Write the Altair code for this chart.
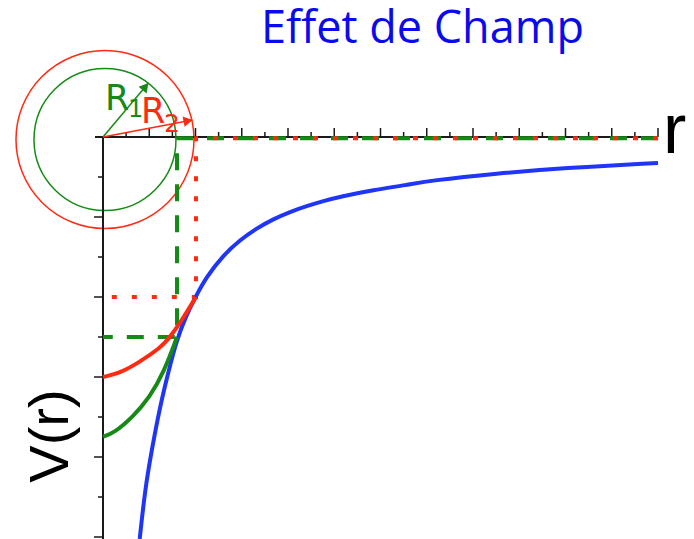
import altair as alt
import pandas as pd

# ---- values (x in r-tick units, y in V-tick units) ----
blue_r = [1.587, 1.816, 2.106, 2.465, 2.824, 3.187, 3.59, 4.02, 4.485, 5.21, 5.925, 6.65, 7.37,
          8.09, 8.81, 9.53, 10.27, 11.69, 13.13, 14.14, 17.03, 19.91, 24.0]
blue_v = [-10.05, -8.825, -7.825, -6.74, -5.875, -5.075, -4.475, -3.975, -3.49, -2.95, -2.575, -2.28, -2.05,
          -1.87, -1.725, -1.6, -1.49, -1.325, -1.2, -1.09, -0.91, -0.775, -0.65]

red_r = [0.0, 0.74, 1.60, 2.47, 2.82, 3.33, 4.02]
red_v = [-6.0, -5.9, -5.62, -5.27, -5.06, -4.66, -4.0]

green_r = [0.0, 0.45, 1.31, 2.03, 2.61, 3.20]
green_v = [-7.49, -7.41, -6.99, -6.49, -5.91, -5.0]

R1, V_R1 = 3.20, -5.0
R2, V_R2 = 4.02, -4.0
r_end = 24
x_ticks = list(range(1, 25))
y_ticks = list(range(1, 11))

W, H = 678, 531
xs = alt.Scale(domain=[-95 / 23.125, (W - 95) / 23.125], nice=False, zero=False)
ys = alt.Scale(domain=[-(H - 129) / 40, 129 / 40], nice=False, zero=False)
X = lambda f: alt.X(f, type="quantitative", scale=xs, axis=None)
Y = lambda f: alt.Y(f, type="quantitative", scale=ys, axis=None)

BLUE = "#1f35f8"
RED = "#ff2a12"
GREEN = "#168a16"

# circles
circ = pd.DataFrame({"x": [0.086, 0.086], "y": [-0.0625, -0.0625], "d": [178, 142], "c": [RED, GREEN]})
circles = alt.Chart(circ).mark_point(shape="circle", filled=False, strokeWidth=1.5, opacity=1).encode(
    x=X("x"), y=Y("y"),
    size=alt.Size("s:Q", scale=None),
    color=alt.Color("c:N", scale=None),
).transform_calculate(s="datum.d*datum.d")

# axes
axes_df = pd.DataFrame({"x": [-0.346, 0], "x2": [r_end, 0], "y": [0, 0], "y2": [0, ys.domain[0]]})
axes = alt.Chart(axes_df).mark_rule(color="#1a1a1a", strokeWidth=2).encode(
    x=X("x"), x2="x2", y=Y("y"), y2="y2")

xt = pd.DataFrame({"x": x_ticks})
xt["major"] = xt["x"] % 2 == 0
xt["y0"] = 0.0
xt["y1"] = xt["major"].map({True: 9 / 40, False: 5 / 40})
xticks = alt.Chart(xt).mark_rule(color="#1a1a1a", strokeWidth=1.5).encode(
    x=X("x"), y=Y("y0"), y2="y1")

yt = pd.DataFrame({"y": [-v for v in y_ticks]})
yt["major"] = yt["y"] % 2 == 0
yt["x0"] = 0.0
yt["x1"] = yt["major"].map({True: -9 / 23.125, False: -5 / 23.125})
yticks = alt.Chart(yt).mark_rule(color="#1a1a1a", strokeWidth=1.5).encode(
    y=Y("y"), x=X("x0"), x2="x1")

# dashed guides
g_path = pd.DataFrame({"x": [r_end, R1, R1, 0], "y": [-0.03, -0.03, V_R1, V_R1], "i": [0, 1, 2, 3]})
r_path = pd.DataFrame({"x": [r_end, R2, R2, 0], "y": [-0.03, -0.03, V_R2, V_R2], "i": [0, 1, 2, 3]})
g_dash = alt.Chart(g_path).mark_line(color=GREEN, strokeWidth=4, strokeDash=[17, 14]).encode(
    x=X("x"), y=Y("y"), order="i:Q")
r_dash = alt.Chart(r_path).mark_line(color=RED, strokeWidth=4, strokeDash=[5, 15]).encode(
    x=X("x"), y=Y("y"), order="i:Q")

# curves
blue = alt.Chart(pd.DataFrame({"x": blue_r, "y": blue_v})).mark_line(
    color=BLUE, strokeWidth=4, interpolate="basis").encode(x=X("x"), y=Y("y"))
red = alt.Chart(pd.DataFrame({"x": red_r, "y": red_v})).mark_line(
    color=RED, strokeWidth=4, interpolate="basis").encode(x=X("x"), y=Y("y"))
green = alt.Chart(pd.DataFrame({"x": green_r, "y": green_v})).mark_line(
    color=GREEN, strokeWidth=4, interpolate="basis").encode(x=X("x"), y=Y("y"))

# radius arrows
arr = pd.DataFrame({"x": [0, 0], "y": [0, 0], "x2": [1.959, 3.87], "y2": [1.3425, 0.425], "c": [GREEN, RED]})
shafts = alt.Chart(arr).mark_rule(strokeWidth=1.5).encode(
    x=X("x"), y=Y("y"), x2="x2", y2="y2", color=alt.Color("c:N", scale=None))
heads_df = pd.DataFrame({"x": [1.838, 3.678], "y": [1.26, 0.405], "a": [40, 79], "c": [GREEN, RED]})
heads = alt.Chart(heads_df).mark_point(shape="triangle-up", filled=True, size=110, opacity=1).encode(
    x=X("x"), y=Y("y"), angle=alt.Angle("a:Q", scale=None), color=alt.Color("c:N", scale=None))

# texts
def txt(s, x, y, size, color, font="DejaVu Sans", align="left", baseline="alphabetic", angle=0):
    return alt.Chart(pd.DataFrame({"t": [s]})).mark_text(
        align=align, baseline=baseline, fontSize=size, font=font, color=color, angle=angle
    ).encode(text="t:N", x=alt.value(x), y=alt.value(y))

title = txt("Effet de Champ", 261 - 8, 43 - 8, 45, "#0a0aee", font="Open Sans")
r_lab = txt("r", 663 - 8, 153 - 8, 70, "#000000", font="Liberation Sans")
v_lab = txt("V(r)", 51 - 8, 436 - 8, 56, "#000000", font="Liberation Sans", align="center", baseline="middle", angle=270)
R1a = txt("R", 105 - 8, 110 - 8, 35, GREEN)
R1b = txt("1", 128 - 8, 117 - 8, 24, GREEN)
R2a = txt("R", 141 - 8, 123 - 8, 35, RED)
R2b = txt("2", 164 - 8, 132 - 8, 25, RED)

chart = alt.layer(
    circles, axes, xticks, yticks, g_dash, r_dash, blue, green, red, shafts, heads,
    title, r_lab, v_lab, R1a, R1b, R2a, R2b,
).properties(width=W, height=H, padding=0, autosize=alt.AutoSizeParams(type="none")).configure_view(stroke=None)

chart.save("out.html", embed_options={"renderer": "svg", "actions": False})
